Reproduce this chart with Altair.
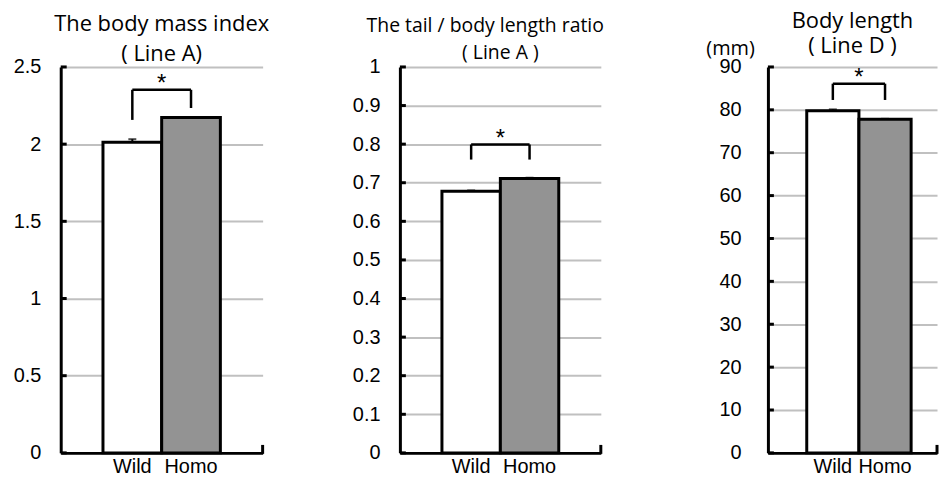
import altair as alt
import pandas as pd

categories = ["Wild", "Homo"]

bmi_mean = [2.012, 2.173]
bmi_err = [0.02, 0.003]
bmi_ticks = [0, 0.5, 1, 1.5, 2, 2.5]
bmi_bracket_top = 2.352
bmi_bracket_legs = [2.157, 2.234]

ratio_mean = [0.678, 0.711]
ratio_err = [0.002, 0.002]
ratio_ticks = [0, 0.1, 0.2, 0.3, 0.4, 0.5, 0.6, 0.7, 0.8, 0.9, 1]
ratio_bracket_top = 0.799
ratio_bracket_legs = [0.76, 0.76]

length_mean = [79.8, 77.8]
length_err = [0.3, 0.1]
length_ticks = [0, 10, 20, 30, 40, 50, 60, 70, 80, 90]
length_bracket_top = 86.1
length_bracket_legs = [82.3, 82.3]

LABEL_FONT = "Liberation Sans"
TITLE_FONT = "Open Sans"
H = 388
PAD_RIGHT = "\u00a0" * 6 + "\u200b"


def panel(title_lines, means, errs, ticks, bracket_top, leg_bottoms, width,
          pad_outer, align, label_pad, title_offset, line_height, title_size, ytitle=None):
    ymax = ticks[-1]
    df = pd.DataFrame({
        "group": categories,
        "mean": means,
        "upper": [m + e for m, e in zip(means, errs)],
        "leg": leg_bottoms,
        "top": [bracket_top] * len(categories),
    })
    xs = alt.Scale(domain=categories, paddingInner=0, paddingOuter=pad_outer, align=align)
    ys = alt.Scale(domain=[0, ymax], nice=False, zero=True)
    step = width / (len(categories) + 2 * pad_outer)

    xaxis = alt.Axis(title=None, labelAngle=0, ticks=False, domainColor="black",
                     domainWidth=3, labelFont=LABEL_FONT, labelFontSize=20,
                     labelColor="black", labelPadding=4, grid=False)
    yaxis_kw = dict(values=ticks, labelExpr="'' + datum.value", grid=True,
                    gridColor="#c0c0c0", gridWidth=2, domainColor="black",
                    domainWidth=3, ticks=False, labelPadding=label_pad,
                    labelOverlap=False, labelFont=LABEL_FONT, labelFontSize=20,
                    labelColor="black")
    if ytitle:
        yaxis = alt.Axis(title=ytitle, titleAngle=0, titleX=-38, titleY=-19,
                         titleAlign="center", titleBaseline="middle",
                         titleFont=TITLE_FONT, titleFontSize=20,
                         titleFontWeight="normal", titleColor="black", **yaxis_kw)
    else:
        yaxis = alt.Axis(title=None, **yaxis_kw)

    def xq(field="group"):
        return alt.X(f"{field}:N", sort=categories, scale=xs, axis=xaxis)

    def yq(field):
        return alt.Y(f"{field}:Q", scale=ys, axis=yaxis)

    bars = alt.Chart(df).mark_bar(stroke="black", strokeWidth=3).encode(
        x=xq(),
        y=yq("mean"),
        fill=alt.Fill("group:N", scale=alt.Scale(domain=categories, range=["white", "#939393"]),
                      legend=None),
    )
    err = alt.Chart(df).mark_rule(color="black", strokeWidth=2).encode(
        x=xq(), y=yq("mean"), y2="upper:Q",
    )
    caps = alt.Chart(df).mark_tick(color="black", thickness=2, size=8, orient="horizontal").encode(
        x=xq(), y=yq("upper"),
    )
    inward = alt.Chart(pd.DataFrame({"v": ticks})).mark_rule(color="black", strokeWidth=3).encode(
        y=yq("v"), x=alt.value(0), x2=alt.value(6),
    )
    legs = alt.Chart(df).mark_rule(color="black", strokeWidth=2.5).encode(
        x=xq(), y=yq("leg"), y2="top:Q",
    )
    hdf = pd.DataFrame({"a": [categories[0]], "b": [categories[1]], "top": [bracket_top], "t": ["*"]})
    hbar = alt.Chart(hdf).mark_rule(color="black", strokeWidth=2.5).encode(
        x=xq("a"), x2="b:N", y=yq("top"),
    )
    star = alt.Chart(hdf).mark_text(dx=step / 2, dy=-6, fontSize=24, font=LABEL_FONT,
                                    color="black", baseline="middle").encode(
        x=xq("a"), y=yq("top"), text="t:N",
    )
    end_tick = alt.Chart(pd.DataFrame({"k": [0]})).mark_rule(color="black", strokeWidth=3).encode(
        x=alt.value(width), y=alt.value(H + 1), y2=alt.value(H - 8),
    )
    return alt.layer(bars, err, caps, inward, legs, hbar, star, end_tick).properties(
        width=width,
        height=H,
        title=alt.TitleParams(text=title_lines, font=TITLE_FONT, fontSize=title_size,
                              fontWeight="normal", color="black", anchor="middle",
                              lineHeight=line_height, offset=title_offset),
    )


p1 = panel(["The body mass index", "( Line A)"], bmi_mean, bmi_err, bmi_ticks,
           bmi_bracket_top, bmi_bracket_legs, 203, 0.72, 0.5, 20, -9, 30, 22)
p2 = panel(["The tail / body length ratio" + PAD_RIGHT, "( Line A )"], ratio_mean, ratio_err,
           ratio_ticks, ratio_bracket_top, ratio_bracket_legs, 202, 0.72, 0.5, 20, -7, 28, 19.5)
p3 = panel(["Body length", "( Line D )"], length_mean, length_err, length_ticks,
           length_bracket_top, length_bracket_legs, 170, 0.62, 0.6, 27, -20, 25, 22, ytitle="(mm)")

chart = alt.hconcat(
    alt.hconcat(p1, p2, spacing=81),
    p3,
    spacing=70,
).configure_view(
    stroke="transparent"
).properties(
    padding={"left": 4, "top": 0, "right": 0, "bottom": 0}
)

chart.save("out.html", embed_options={"renderer": "svg", "actions": False})
